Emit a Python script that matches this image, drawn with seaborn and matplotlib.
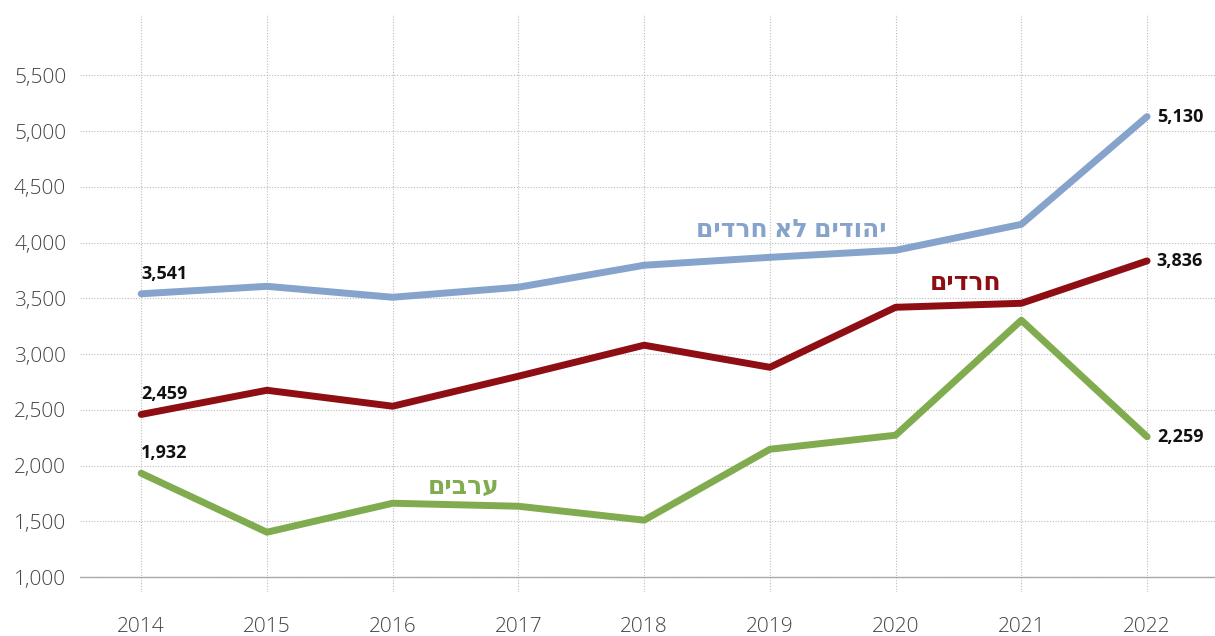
import matplotlib
matplotlib.use("Agg")
import matplotlib.pyplot as plt
import seaborn as sns
import pandas as pd

years = [2014, 2015, 2016, 2017, 2018, 2019, 2020, 2021, 2022]
jews_non_haredi = [3541, 3608, 3510, 3600, 3797, 3868, 3931, 4164, 5130]
haredi = [2459, 2676, 2533, 2802, 3080, 2882, 3420, 3456, 3836]
arabs = [1932, 1403, 1663, 1636, 1511, 2147, 2273, 3304, 2259]

names = ["יהודים לא חרדים", "חרדים", "ערבים"]
colors = ["#85a3cb", "#8e0e14", "#80ac4f"]
yticks = [1000, 1500, 2000, 2500, 3000, 3500, 4000, 4500, 5000, 5500]

df = pd.DataFrame({
    "year": years * 3,
    "value": jews_non_haredi + haredi + arabs,
    "group": [names[0]] * 9 + [names[1]] * 9 + [names[2]] * 9,
})

sns.set_style("white")
plt.rcParams["font.family"] = ["Open Sans", "DejaVu Sans"]

fig, ax = plt.subplots(figsize=(12.15, 6.36), dpi=100)
fig.subplots_adjust(left=0.066, right=1.0, top=0.978, bottom=0.069)

sns.lineplot(data=df, x="year", y="value", hue="group", palette=colors,
             hue_order=names, linewidth=5, legend=False, ax=ax,
             solid_capstyle="round")

ax.set_xlim(2013.515, 2022.54)
ax.set_ylim(866, 6050)
ax.set_xticks(years)
ax.set_yticks(yticks)
ax.set_yticklabels([f"{v:,}" for v in yticks])
ax.grid(True, color="#bbbbbb", linestyle=(0, (1, 1.5)), linewidth=0.8)
ax.set_axisbelow(True)
for s in ax.spines.values():
    s.set_visible(False)
ax.axhline(1000, color="#aaaaaa", linewidth=1, zorder=1)
ax.tick_params(axis="both", length=0, labelsize=15, labelcolor="#444444")
ax.tick_params(axis="x", pad=18)
ax.tick_params(axis="y", pad=10)
for t in ax.get_xticklabels() + ax.get_yticklabels():
    t.set_fontweight("light")
ax.set_xlabel("")
ax.set_ylabel("")

series = [jews_non_haredi, haredi, arabs]
for vals in series:
    ax.annotate(f"{vals[0]:,}", (years[0], vals[0]), xytext=(0, 8),
                textcoords="offset points", ha="left", va="bottom",
                fontsize=13, fontweight="bold", color="#111111")
    ax.annotate(f"{vals[-1]:,}", (years[-1], vals[-1]), xytext=(7, 0),
                textcoords="offset points", ha="left", va="center",
                fontsize=13, fontweight="bold", color="#111111")

label_pos = [(2019.17, 4110), (2020.56, 3635), (2016.56, 1807)]
for name, c, (x, y) in zip(names, colors, label_pos):
    ax.text(x, y, name[::-1], color=c, fontsize=18, fontweight="bold",
            ha="center", va="center")

fig.savefig("out.png", dpi=100)
